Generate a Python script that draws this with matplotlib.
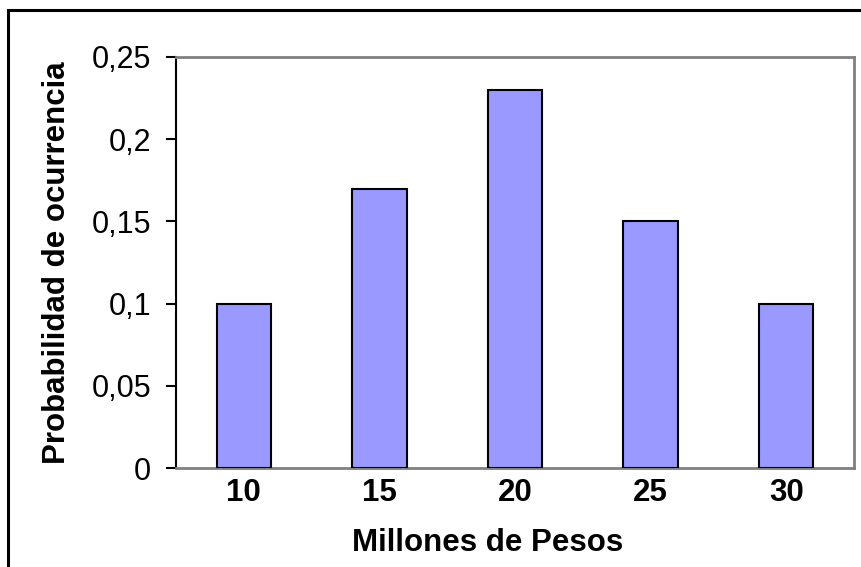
import matplotlib
matplotlib.use("Agg")
import matplotlib.pyplot as plt
from matplotlib.patches import Rectangle
from matplotlib.ticker import FuncFormatter

categories = ["10", "15", "20", "25", "30"]
probabilities = [0.10, 0.17, 0.23, 0.15, 0.10]
y_ticks = [0, 0.05, 0.10, 0.15, 0.20, 0.25]

W, H = 861, 567
plt.rcParams["font.family"] = ["Liberation Sans", "DejaVu Sans"]

fig = plt.figure(figsize=(W / 100, H / 100), dpi=100)
ax = fig.add_axes([176 / W, 1 - 468 / H, (854 - 176) / W, (468 - 57) / H])

positions = range(len(categories))
ax.bar(positions, probabilities, width=0.4, color="#9999ff",
       edgecolor="black", linewidth=1.5, zorder=3)

ax.set_xlim(-0.5, len(categories) - 0.5)
ax.set_ylim(0, 0.25)
ax.set_xticks(list(positions))
ax.set_xticklabels(categories, fontsize=22.5, fontweight="bold")
ax.set_yticks(y_ticks)
ax.yaxis.set_major_formatter(
    FuncFormatter(lambda v, _: ("%g" % round(v, 2)).replace(".", ",")))
ax.tick_params(axis="y", labelsize=22, length=7, width=1.5, pad=11)
ax.tick_params(axis="x", length=0, pad=7)

for side in ("top", "right", "bottom"):
    ax.spines[side].set_color("#808080")
    ax.spines[side].set_linewidth(2)
ax.spines["left"].set_color("black")
ax.spines["left"].set_linewidth(1.5)

ax.set_xlabel("Millones de Pesos", fontsize=22.5, fontweight="bold")
ax.xaxis.set_label_coords(0.459, -0.145)
ax.set_ylabel("Probabilidad de ocurrencia", fontsize=22.5, fontweight="bold",
              labelpad=14)

# chart frame, open past the right and bottom edges
fig.patches.append(Rectangle((8 / W, -0.1), 1.2, 1 - 10 / H + 0.1,
                             transform=fig.transFigure, fill=False,
                             edgecolor="black", linewidth=2.2))

fig.savefig("out.png", dpi=100)
